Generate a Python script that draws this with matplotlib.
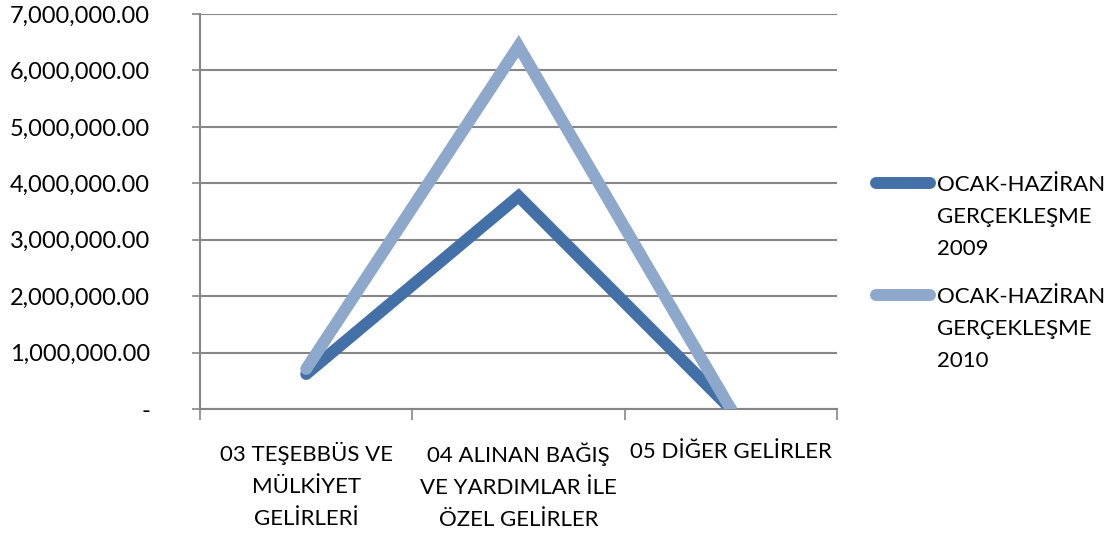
import matplotlib.pyplot as plt
from matplotlib.lines import Line2D
import matplotlib.ticker as mtick

plt.rcParams['font.family'] = ['Lato', 'DejaVu Sans']

categories = ["03 TEŞEBBÜS VE\nMÜLKİYET\nGELİRLERİ",
              "04 ALINAN BAĞIŞ\nVE YARDIMLAR İLE\nÖZEL GELİRLER",
              "05 DİĞER GELİRLER"]
series_names = ["OCAK-HAZİRAN\nGERÇEKLEŞME\n2009",
                "OCAK-HAZİRAN\nGERÇEKLEŞME\n2010"]
vals_2009 = [620000, 3770000, 0]
vals_2010 = [710000, 6430000, 0]
colors = ["#4470A8", "#8EA8CC"]

fig = plt.figure(figsize=(11.12, 5.35), dpi=100)
ax = fig.add_axes([0.1799, 0.2355, 0.5728, 0.7383])

x = range(len(categories))
for vals, c in zip([vals_2009, vals_2010], colors):
    ax.plot(x, vals, color=c, linewidth=8.6, solid_capstyle='round',
            solid_joinstyle='miter', zorder=3)

ax.set_xlim(-0.5, 2.5)
ax.set_ylim(0, 7000000)
ax.yaxis.set_major_locator(mtick.MultipleLocator(1000000))
ax.yaxis.set_major_formatter(mtick.FuncFormatter(
    lambda v, p: "-" if v == 0 else f"{v:,.2f}"))
ax.grid(axis='y', color='#868686', linewidth=1.5)
ax.set_axisbelow(True)

ax.set_xticks([-0.5, 0.5, 1.5, 2.5])
ax.set_xticklabels([])
ax.xaxis.set_minor_locator(mtick.FixedLocator([0, 1, 2]))
ax.xaxis.set_minor_formatter(mtick.FixedFormatter(categories))
ax.tick_params(axis='x', which='major', length=8, width=1.2, color='#868686')
ax.tick_params(axis='x', which='minor', length=0, pad=24, labelsize=16)
ax.tick_params(axis='y', length=6, width=1.2, color='#868686', labelsize=17, pad=30)
for lab in ax.xaxis.get_minorticklabels():
    lab.set_linespacing(1.75)

for s in ['top', 'right']:
    ax.spines[s].set_visible(False)
ax.spines['bottom'].set_color('#868686')
ax.spines['bottom'].set_linewidth(1.5)
ax.spines['left'].set_color('#868686')
ax.spines['left'].set_linewidth(1.5)

# legend drawn by hand so the line sits on the first text line
for i, (name, c) in enumerate(zip(series_names, colors)):
    yy = 1 - (183 + i * 112) / 535
    fig.add_artist(Line2D([876 / 1112, 930 / 1112], [yy, yy], color=c,
                          linewidth=8.6, solid_capstyle='round'))
    fig.text(937 / 1112, yy + 0.015, name, fontsize=16, va='top',
             linespacing=1.75)

fig.savefig("out.png", dpi=100)
